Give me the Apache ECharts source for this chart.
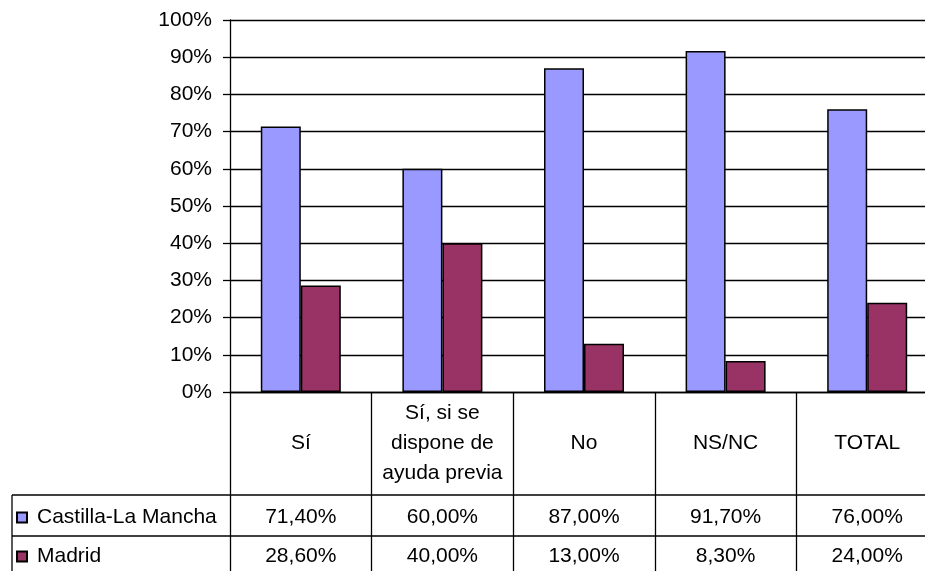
<!DOCTYPE html>
<html>
<head>
<meta charset="utf-8">
<script src="https://cdn.jsdelivr.net/npm/echarts@6/dist/echarts.min.js"></script>
<style>
  html, body { margin: 0; padding: 0; background: #fff; }
  #chart { width: 925px; height: 571px; }
</style>
</head>
<body>
<div id="chart"></div>
<script>
  // datos
  var categorias = ['Sí', 'Sí, si se\ndispone de\nayuda previa', 'No', 'NS/NC', 'TOTAL'];
  var castilla = [71.4, 60.0, 87.0, 91.7, 76.0];
  var madrid = [28.6, 40.0, 13.0, 8.3, 24.0];
  var series = ['Castilla-La Mancha', 'Madrid'];
  var ticksY = [0, 100, 10];

  var fuente = '"Liberation Sans", Arial, sans-serif';
  var tam = 21;

  function pct(v) {
    return v.toFixed(2).replace('.', ',') + '%';
  }

  // filas de la tabla de datos como ejes extra
  function filaTabla(valores, margen) {
    return {
      type: 'category',
      gridIndex: 0,
      position: 'bottom',
      data: categorias,
      axisLine: { show: false },
      axisTick: { show: false },
      axisLabel: {
        margin: margen,
        verticalAlign: 'middle',
        interval: 0,
        color: '#000',
        fontFamily: fuente,
        fontSize: tam,
        formatter: function (v, i) { return pct(valores[i]); }
      }
    };
  }

  function leyenda(nombre, top) {
    return {
      left: 16,
      top: top,
      padding: 0,
      icon: 'rect',
      itemWidth: 10,
      itemHeight: 10,
      selectedMode: false,
      data: [nombre],
      textStyle: {
        color: '#000',
        fontFamily: fuente,
        fontSize: tam,
        padding: [0, 0, 0, 5]
      }
    };
  }

  var chart = echarts.init(document.getElementById('chart'));
  chart.setOption({
    animation: false,
    grid: { left: 230, top: 20, width: 708, height: 372, outerBoundsMode: 'none', containLabel: false },
    legend: [leyenda(series[0], 507), leyenda(series[1], 546)],
    xAxis: [
      {
        type: 'category',
        data: categorias,
        axisLine: { lineStyle: { color: '#000', width: 1.3 } },
        axisTick: { show: true, length: 185, lineStyle: { color: '#000', width: 1.3 } },
        axisLabel: {
          margin: 51,
          verticalAlign: 'middle',
          interval: 0,
          color: '#000',
          fontFamily: fuente,
          fontSize: tam,
          lineHeight: 30
        }
      },
      filaTabla(castilla, 125),
      filaTabla(madrid, 164)
    ],
    yAxis: {
      type: 'value',
      min: ticksY[0],
      max: ticksY[1],
      interval: ticksY[2],
      axisLine: { show: true, lineStyle: { color: '#000', width: 1.3 } },
      axisTick: { show: true, length: 7, lineStyle: { color: '#000', width: 1.3 } },
      axisLabel: {
        margin: 18,
        color: '#000',
        fontFamily: fuente,
        fontSize: tam,
        formatter: '{value}%'
      },
      splitLine: { lineStyle: { color: '#000', width: 1.3 } }
    },
    graphic: [
      { type: 'line', shape: { x1: 12, y1: 495, x2: 925, y2: 495 }, style: { stroke: '#000', lineWidth: 1.3 } },
      { type: 'line', shape: { x1: 12, y1: 536, x2: 925, y2: 536 }, style: { stroke: '#000', lineWidth: 1.3 } },
      { type: 'line', shape: { x1: 12, y1: 495, x2: 12, y2: 571 }, style: { stroke: '#000', lineWidth: 1.3 } }
    ],
    series: [
      {
        name: series[0],
        type: 'bar',
        data: castilla,
        barWidth: 40,
        barGap: '0%',
        itemStyle: { color: '#9999FF', borderColor: '#000', borderWidth: 1.5 }
      },
      {
        name: series[1],
        type: 'bar',
        data: madrid,
        barWidth: 40,
        barGap: '0%',
        itemStyle: { color: '#993366', borderColor: '#000', borderWidth: 1.5 }
      }
    ]
  });
</script>
</body>
</html>
